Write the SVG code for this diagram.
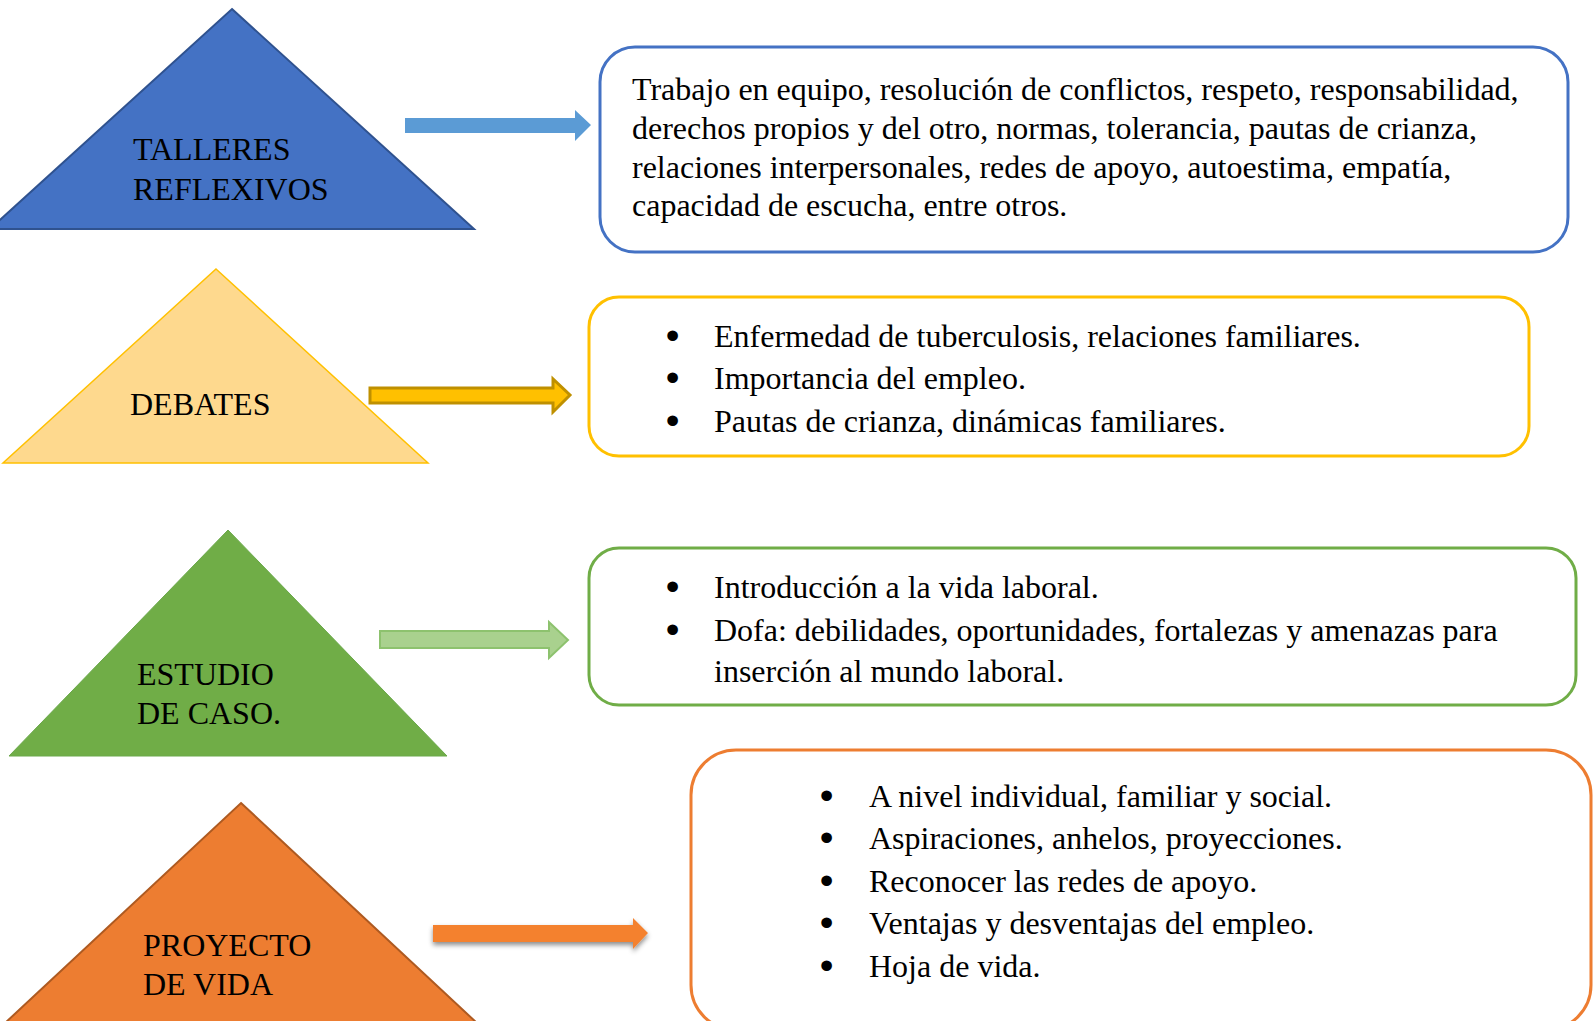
<svg xmlns="http://www.w3.org/2000/svg" width="1596" height="1021" viewBox="0 0 1596 1021">
<defs>
<style>
text{font-family:"Liberation Serif","Times New Roman",serif;font-size:32px;fill:#000}
text.b{stroke:#000;stroke-width:3;stroke-linejoin:round}
.box{fill:#fff;stroke-width:3}
</style>
<filter id="sh" x="-10%" y="-50%" width="120%" height="200%">
<feDropShadow dx="0" dy="3" stdDeviation="2.5" flood-color="#000" flood-opacity="0.45"/>
</filter>
</defs>
<rect width="1596" height="1021" fill="#fff"/>

<g id="node-talleres">
<polygon points="232,9 474,229 -10,229" fill="#4472C4" stroke="#2F528F" stroke-width="2"/>
<text x="133" y="160">TALLERES</text>
<text x="133" y="200">REFLEXIVOS</text>
</g>
<g id="node-debates">
<polygon points="216,269 428,463 3,463" fill="#FED98E" stroke="#FFC000" stroke-width="1.5"/>
<text x="130" y="415">DEBATES</text>
</g>
<g id="node-estudio">
<polygon points="228,530 447,756 9,756" fill="#70AD47" stroke="#6AA84A" stroke-width="1"/>
<text x="137" y="685">ESTUDIO</text>
<text x="137" y="724">DE CASO.</text>
</g>
<g id="node-proyecto">
<polygon points="241,803 478,1024 4,1024" fill="#ED7D31" stroke="#AE5A21" stroke-width="2"/>
<text x="143" y="956">PROYECTO</text>
<text x="143" y="995">DE VIDA</text>
</g>

<g id="box-talleres">
<rect class="box" x="600" y="47" width="968" height="205" rx="35" ry="35" stroke="#4472C4"/>
<text x="632" y="100">Trabajo en equipo, resolución de conflictos, respeto, responsabilidad,</text>
<text x="632" y="139">derechos propios y del otro, normas, tolerancia, pautas de crianza,</text>
<text x="632" y="178">relaciones interpersonales, redes de apoyo, autoestima, empatía,</text>
<text x="632" y="216">capacidad de escucha, entre otros.</text>
</g>
<g id="box-debates">
<rect class="box" x="589" y="297" width="940" height="159" rx="30" ry="30" stroke="#FFC000"/>
<text class="b" x="667" y="347">•</text><text x="714" y="347">Enfermedad de tuberculosis, relaciones familiares.</text>
<text class="b" x="667" y="389">•</text><text x="714" y="389">Importancia del empleo.</text>
<text class="b" x="667" y="432">•</text><text x="714" y="432">Pautas de crianza, dinámicas familiares.</text>
</g>
<g id="box-estudio">
<rect class="box" x="589" y="548" width="987" height="157" rx="30" ry="30" stroke="#70AD47"/>
<text class="b" x="667" y="598">•</text><text x="714" y="598">Introducción a la vida laboral.</text>
<text class="b" x="667" y="641">•</text><text x="714" y="641">Dofa: debilidades, oportunidades, fortalezas y amenazas para</text>
<text x="714" y="682">inserción al mundo laboral.</text>
</g>
<g id="box-proyecto">
<rect class="box" x="691" y="750" width="900" height="280" rx="45" ry="45" stroke="#ED7D31"/>
<text class="b" x="821" y="807">•</text><text x="869" y="807">A nivel individual, familiar y social.</text>
<text class="b" x="821" y="849">•</text><text x="869" y="849">Aspiraciones, anhelos, proyecciones.</text>
<text class="b" x="821" y="892">•</text><text x="869" y="892">Reconocer las redes de apoyo.</text>
<text class="b" x="821" y="934">•</text><text x="869" y="934">Ventajas y desventajas del empleo.</text>
<text class="b" x="821" y="977">•</text><text x="869" y="977">Hoja de vida.</text>
</g>

<g id="connectors">
<polygon points="405,118 575,118 575,110 591,125 575,141 575,133 405,133" fill="#5B9BD5"/>
<polygon points="370,388 553,388 553,379 570,395 553,412 553,403 370,403" fill="#FFC000" stroke="#BF9000" stroke-width="3" stroke-linejoin="miter"/>
<polygon points="380,631 549,631 549,622 568,640 549,658 549,648 380,648" fill="#A9D18E" stroke="#8DC26E" stroke-width="2"/>
<polygon points="433,925 633,925 633,918 648,933 633,949 633,942 433,942" fill="#F4812F" filter="url(#sh)"/>
</g>
</svg>
